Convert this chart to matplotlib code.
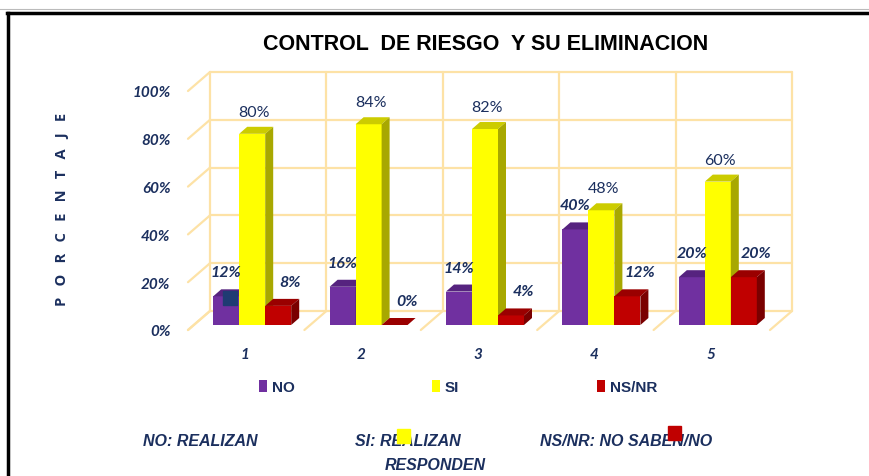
import matplotlib

matplotlib.use("Agg")

import matplotlib.pyplot as plt
import matplotlib.transforms as mtransforms
from matplotlib.lines import Line2D
from matplotlib.patches import Polygon, Rectangle

# Data
categories = [1, 2, 3, 4, 5]
cat_labels = ["1", "2", "3", "4", "5"]
no_vals = [12, 16, 14, 40, 20]
si_vals = [80, 84, 82, 48, 60]
nsnr_vals = [8, 0, 4, 12, 20]
series_names = ["NO", "SI", "NS/NR"]
y_ticks = [0, 20, 40, 60, 80, 100]
y_tick_labels = ["0%", "20%", "40%", "60%", "80%", "100%"]

NAVY = "#1b2f5e"
GRID = "#fde2a6"
colors = {
    "NO": ("#7030a0", "#56237f", "#4a1d6e"),
    "SI": ("#ffff00", "#cccc00", "#a8a800"),
    "NS/NR": ("#c00000", "#9a0000", "#7a0000"),
}
BODY = ["Lato", "DejaVu Sans"]
NARROW = ["Liberation Sans Narrow", "Liberation Sans", "DejaVu Sans"]

W, H = 870, 477
fig = plt.figure(figsize=(W / 100, H / 100), dpi=100)
fig.patch.set_facecolor("white")

# front plane of the bars: x 0.5..5.5 -> px 194..776, y 0..100 -> px 326..87
ax = fig.add_axes([194 / W, (H - 326) / H, 582 / W, 239 / H])
ax.set_xlim(0.5, 5.5)
ax.set_ylim(0, 100)
for s in ax.spines.values():
    s.set_visible(False)
ax.set_facecolor("none")

ppx = 582 / 5.0   # pixels per category unit
ppy = 239 / 100.0  # pixels per percent


def px(dx, dy):
    return dx / ppx, dy / ppy


# back wall offset and floor depth
bx, by = px(16, 14)
fx, fy = px(-22, -19)
gkw = dict(color=GRID, lw=1.6, zorder=0, clip_on=False, solid_capstyle="round")
x0, x1 = 0.5, 5.5
for yv in y_ticks:
    ax.plot([x0 + bx, x1 + bx], [yv + by, yv + by], **gkw)
    ax.plot([x0 + bx, x0 + bx + fx], [yv + by, yv + by + fy], **gkw)
for k in range(6):
    xv = x0 + k + bx
    ax.plot([xv, xv], [by, 100 + by], **gkw)
    ax.plot([xv, xv + fx], [by, by + fy], **gkw)

# 3D-looking bars
bw = 26 / ppx
dx, dy = px(8, 7)
handles = []
for i, g in enumerate(categories):
    for j, (name, vals) in enumerate(zip(series_names, [no_vals, si_vals, nsnr_vals])):
        front, top, side = colors[name]
        xc = g + (j - 1) * bw
        v = vals[i]
        b = ax.bar(xc, v, width=bw, color=front, zorder=3 + j, linewidth=0,
                   label=name if i == 0 else None)
        if i == 0:
            handles.append(b)
        xl, xr = xc - bw / 2, xc + bw / 2
        ax.add_patch(Polygon([(xl, v), (xr, v), (xr + dx, v + dy), (xl + dx, v + dy)],
                             closed=True, color=top, zorder=3 + j, lw=0, clip_on=False))
        ax.add_patch(Polygon([(xr, 0), (xr, v), (xr + dx, v + dy), (xr + dx, dy)],
                             closed=True, color=side, zorder=3 + j, lw=0, clip_on=False))
        # value labels
        if name == "SI":
            off, style = (2, 22), "normal"
        elif name == "NO":
            off, style = (0, 24), "italic"
        else:
            off, style = (12, 24), "italic"
        ax.annotate(f"{v}%", (xc, v), xytext=off, textcoords="offset pixels",
                    ha="center", va="center", fontsize=11.5, color=NAVY,
                    fontstyle=style, fontweight="bold" if style == "italic" else "normal",
                    family=BODY, zorder=10)

# axes ticks
ax.set_yticks(y_ticks)
ax.set_yticklabels(y_tick_labels, fontsize=11, fontstyle="italic", fontweight="bold",
                   color=NAVY, family=BODY)
ax.tick_params(axis="y", length=0, pad=17)
ax.set_xticks(categories)
ax.set_xticklabels(cat_labels, fontsize=11, fontstyle="italic", fontweight="bold",
                   color=NAVY, family=BODY)
ax.tick_params(axis="x", length=0, pad=16)
shift_y = mtransforms.ScaledTranslation(0, -5 / 100, fig.dpi_scale_trans)
shift_x = mtransforms.ScaledTranslation(-7 / 100, 0, fig.dpi_scale_trans)
for t in ax.get_yticklabels():
    t.set_transform(t.get_transform() + shift_y)
for t in ax.get_xticklabels():
    t.set_transform(t.get_transform() + shift_x)

# title and axis label
fig.text(486 / W, 1 - 44 / H, "CONTROL  DE RIESGO  Y SU ELIMINACION", ha="center",
         va="center", fontsize=15.5, fontweight="bold", color="black", family=NARROW)
fig.text(62 / W, 1 - 209 / H, "   ".join("PORCENTAJE"), rotation=90, ha="center",
         va="center", fontsize=10.5, fontweight="bold", color=NAVY,
         family=["Open Sans", "DejaVu Sans"])

# legend
fig.legend(handles=handles, labels=series_names, loc="center", ncol=3,
           bbox_to_anchor=(458 / W, 1 - 388 / H), frameon=False,
           handlelength=0.55, handleheight=0.9, handletextpad=0.3,
           columnspacing=9.0, prop=dict(family=NARROW, weight="bold", size=11),
           labelcolor=NAVY)

# notes below
nkw = dict(va="center", fontsize=11.5, fontstyle="italic", fontweight="bold",
           color=NAVY, family=NARROW)
fig.text(143 / W, 1 - 442 / H, "NO: REALIZAN", ha="left", **nkw)
fig.text(355 / W, 1 - 442 / H, "SI: REALIZAN", ha="left", **nkw)
fig.text(385 / W, 1 - 466 / H, "RESPONDEN", ha="left", **nkw)
fig.text(540 / W, 1 - 442 / H, "NS/NR: NO SABEN/NO", ha="left", **nkw)

# stray marker squares seen in the original
fig.patches.append(Rectangle((223 / W, 1 - 306 / H), 14 / W, 14 / H,
                             transform=fig.transFigure, color="#1f3b73", zorder=20))
fig.patches.append(Rectangle((397 / W, 1 - 444 / H), 13 / W, 14 / H,
                             transform=fig.transFigure, color="#ffff00", zorder=20))
fig.patches.append(Rectangle((668 / W, 1 - 441 / H), 13 / W, 14 / H,
                             transform=fig.transFigure, color="#c00000", zorder=20))

# frame
fig.add_artist(Line2D([0, 1], [1 - 10 / H, 1 - 10 / H], transform=fig.transFigure,
                      color="#bbbbbb", lw=0.8))
fig.add_artist(Line2D([7 / W, 1], [1 - 13.5 / H, 1 - 13.5 / H], transform=fig.transFigure,
                      color="black", lw=2.5))
fig.add_artist(Line2D([8.5 / W, 8.5 / W], [0, 1 - 13.5 / H], transform=fig.transFigure,
                      color="black", lw=2.5))

fig.savefig("out.png", dpi=100, facecolor="white")
